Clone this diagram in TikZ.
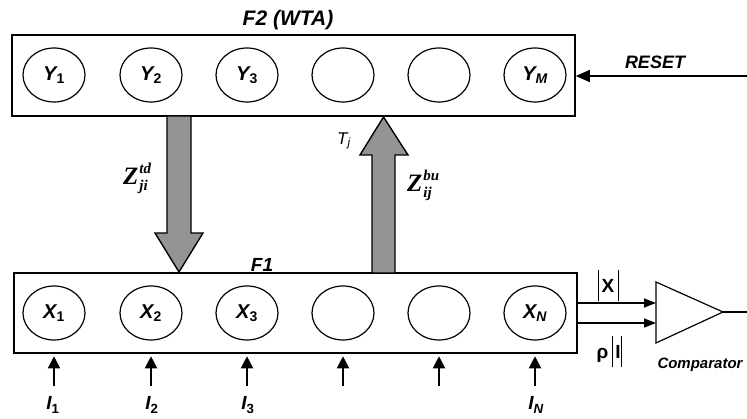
\documentclass[tikz,border=0pt]{standalone}
\usepackage{fontspec}
\setmainfont{Liberation Sans}
\newfontfamily\zfont{Liberation Serif}
\usetikzlibrary{arrows.meta,shapes.geometric}

\newcommand{\tallbar}{\rule[-9pt]{0.7pt}{31pt}}
% weight symbol with super- and subscript set one above the other
\newcommand{\wsym}[2]{{\fontsize{25}{25}\selectfont Z}\kern1pt
  {\fontsize{15}{15}\selectfont\raisebox{11pt}{\rlap{#1}}\raisebox{-6pt}{\rlap{#2}}\phantom{#1}}}

\begin{document}
\begin{tikzpicture}[x=1pt,y=-1pt,
  layerbox/.style={draw, line width=1.6pt, inner sep=0pt, minimum width=563pt},
  unit/.style={draw, ellipse, line width=1.2pt, minimum width=62pt, minimum height=54pt,
               inner sep=0pt, font=\fontsize{20}{20}\selectfont\bfseries\itshape},
  lbl/.style={font=\fontsize{19}{19}\selectfont\bfseries\itshape, inner sep=0pt},
  zlbl/.style={font=\zfont\bfseries\itshape, inner sep=0pt, anchor=base west},
  wire/.style={line width=1.6pt},
  inarrow/.style={line width=1.8pt, -{Triangle[length=12pt,width=12pt]}},
  sigarrow/.style={line width=1.6pt, -{Triangle[length=12pt,width=9pt]}},
  blockarrow/.style={draw, line width=1.4pt, fill=black!42, line join=miter},
]
\useasboundingbox (0,0) rectangle (747,419);

% layers
\node[layerbox, minimum height=81pt] (f2) at (293.5,75.5) {};
\node[layerbox, minimum height=80pt] (f1) at (295.5,313) {};
\node[lbl, font=\fontsize{21}{21}\selectfont\bfseries\itshape] (f2lbl) at (288,20) {F2 (WTA)};
\node[lbl] (f1lbl) at (262,265) {F1};

% F2 units
\node[unit] (y1) at (54,75)  {Y\textsubscript{\upshape 1}};
\node[unit] (y2) at (151,75) {Y\textsubscript{\upshape 2}};
\node[unit] (y3) at (247,75) {Y\textsubscript{\upshape 3}};
\node[unit] (y4) at (343,75) {};
\node[unit] (y5) at (439,75) {};
\node[unit] (ym) at (535,75) {Y\textsubscript{M}};

% F1 units
\node[unit] (x1) at (54,313)  {X\textsubscript{\upshape 1}};
\node[unit] (x2) at (151,313) {X\textsubscript{\upshape 2}};
\node[unit] (x3) at (247,313) {X\textsubscript{\upshape 3}};
\node[unit] (x4) at (343,313) {};
\node[unit] (x5) at (439,313) {};
\node[unit] (xn) at (535,313) {X\textsubscript{N}};

% reset signal
\coordinate (rsin) at (747,76);
\draw[wire, -{Triangle[length=14pt,width=12pt]}] (rsin) -- (f2.east |- rsin);
\node[lbl, font=\fontsize{18}{18}\selectfont\bfseries\itshape] (reset) at (655,62) {RESET};

% top-down and bottom-up pathways
\draw[blockarrow] (167,116) -- (191,116) -- (191,233) -- (203,233) -- (179,272)
  -- (155,233) -- (167,233) -- cycle;
\draw[blockarrow] (372,273) -- (395,273) -- (395,155) -- (408,155) -- (383.5,117)
  -- (360,155) -- (372,155) -- cycle;
\node[zlbl] (ztd) at (123,185) {\wsym{td}{ji}};
\node[zlbl] (zbu) at (407,192) {\wsym{bu}{ij}};
\node[font=\fontsize{17}{17}\selectfont\itshape, inner sep=0pt] (tj) at (344,141) {T\textsubscript{j}};

% inputs
\foreach \i/\xx in {1/54,2/151,3/247,4/343,5/439,6/535} {
  \coordinate (in\i) at (\xx,386);
  \draw[inarrow, shorten >=2.5pt] (in\i) -- (in\i |- f1.south);
}
\node[lbl] (i1) at (53,405) {I\textsubscript{\upshape 1}};
\node[lbl] (i2) at (152,405) {I\textsubscript{\upshape 2}};
\node[lbl] (i3) at (248,405) {I\textsubscript{\upshape 3}};
\node[lbl] (in) at (536,405) {I\textsubscript{N}};

% comparator
\coordinate (ca) at (656,282);
\coordinate (cb) at (656,343);
\coordinate (cc) at (723,312);
\coordinate (cout) at (747,312);
\draw[line width=1.2pt, line join=miter] (ca) -- (cb) -- (cc) -- cycle;
\draw[wire] (cc) -- (cout);
\coordinate (pa) at (656,303);
\coordinate (pb) at (656,323);
\draw[sigarrow] (f1.east |- pa) -- (pa);
\draw[sigarrow] (f1.east |- pb) -- (pb);
\node[font=\fontsize{19}{19}\selectfont\bfseries, inner sep=0pt] (absx) at (608,286)
  {\tallbar\,X\,\tallbar};
\node[font=\fontsize{19}{19}\selectfont\bfseries, inner sep=0pt] (absi) at (609,352)
  {ρ\,\tallbar\,I\tallbar};
\node[font=\fontsize{15}{15}\selectfont\bfseries\itshape, inner sep=0pt] (cmp) at (700,365) {Comparator};
\end{tikzpicture}
\end{document}
